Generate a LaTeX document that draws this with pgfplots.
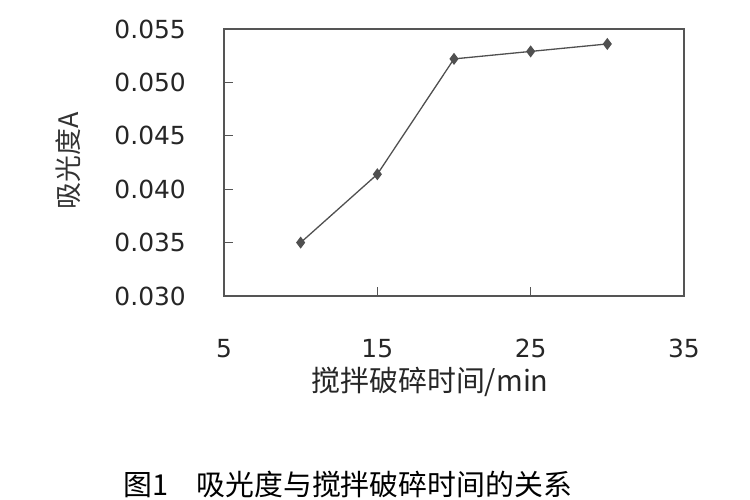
\documentclass[border=0pt]{standalone}
\usepackage{pgfplots}
\pgfplotsset{compat=1.18}
\usepackage{fontspec}
\setmainfont{DejaVu Sans}
\newfontfamily\cjk{Noto Sans CJK SC}
\definecolor{axgray}{HTML}{555555}
\definecolor{lngray}{HTML}{505050}
\begin{document}
\begin{tikzpicture}
\begin{axis}[
  at={(224bp,204bp)}, anchor=south west,
  scale only axis, width=460bp, height=267bp,
  xmin=5, xmax=35, ymin=0.030, ymax=0.055,
  xtick={5,15,25,35},
  ytick={0.030,0.035,0.040,0.045,0.050,0.055},
  scaled y ticks=false,
  /pgf/number format/assume math mode=true,
  yticklabel style={/pgf/number format/.cd, fixed, fixed zerofill, precision=3},
  tick align=inside,
  xtick pos=bottom, ytick pos=left,
  major tick length=9bp,
  tick style={axgray, line width=1.2bp},
  axis line style={axgray, line width=1.5bp},
  ticklabel style={font=\fontsize{25}{28}\selectfont, text=black!85, inner sep=0pt},
  xticklabel shift=43bp,
  yticklabel shift=38bp,
  xlabel={搅拌破碎时间/min},
  xlabel style={font=\cjk\fontsize{29}{32}\selectfont, text=black!85, at={(axis description cs:0.448,-0.321)}, anchor=center},
  ylabel={吸光度A},
  ylabel style={font=\cjk\fontsize{27}{30}\selectfont, text=black!80, at={(axis description cs:-0.339,0.505)}, anchor=center, rotate=0},
  clip=false,
]
\addplot[lngray, line width=1.3bp, mark=diamond*, mark size=5bp, mark options={fill=lngray, draw=lngray}]
  coordinates {(10,0.0350) (15,0.0414) (20,0.0522) (25,0.0529) (30,0.0536)};
\end{axis}
\node[anchor=base west, font=\cjk\fontsize{29}{32}\selectfont, text=black] at (120bp,5bp) {图1\hspace{28bp}吸光度与搅拌破碎时间的关系};
\pgfresetboundingbox
\useasboundingbox (0bp,0bp) rectangle (750bp,500bp);
\end{tikzpicture}
\end{document}
